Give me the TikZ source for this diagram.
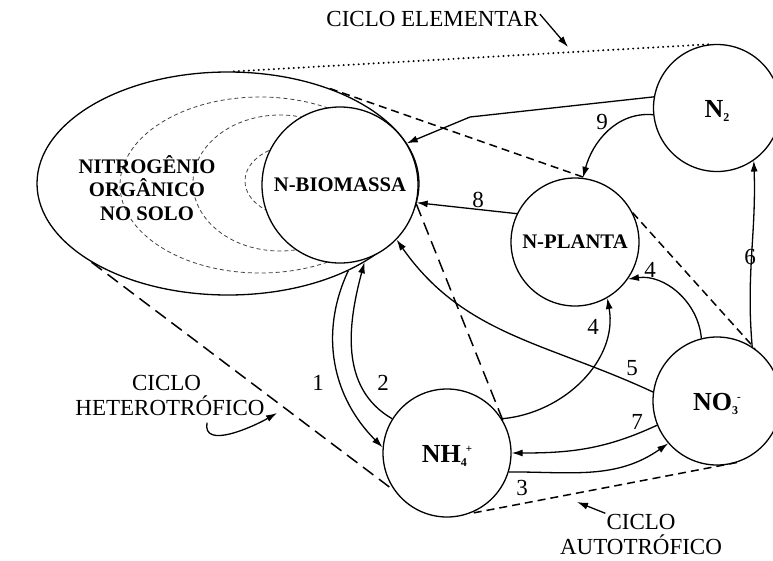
\documentclass[tikz,border=0pt]{standalone}
\usepackage{fontspec}
\setmainfont{Liberation Serif}
\usepackage{tikz}
\usetikzlibrary{shapes.geometric,arrows.meta,positioning,calc}

% small indices for the ion names
\newcommand{\lowix}[1]{\raisebox{-4pt}{\fontsize{12}{12}\selectfont #1}}
\newcommand{\highix}[1]{\raisebox{10pt}{\fontsize{11}{11}\selectfont #1}}

\begin{document}
\begin{tikzpicture}[
    x=1pt, y=-1pt,
    soilbox/.style={
        ellipse,
        draw,
        line width=1.3pt,
        inner sep=0pt,
        minimum width=382pt,
        minimum height=223pt
    },
    pool/.style={
        circle,
        draw,
        line width=1.3pt,
        inner sep=0pt,
        fill=white,
        font=\fontsize{20.7}{24}\selectfont\bfseries
    },
    ion/.style={
        pool,
        minimum size=128pt,
        text height=18pt,
        text depth=0pt,
        font=\fontsize{26}{28}\selectfont\bfseries
    },
    layer/.style={
        draw=black!75,
        line width=0.8pt,
        dash pattern=on 4pt off 3pt
    },
    line/.style={
        draw,
        line width=1.3pt,
        -{Latex[length=11pt,width=7pt]}
    },
    hetero/.style={
        draw,
        line width=1.5pt,
        dash pattern=on 13pt off 7pt
    },
    autoline/.style={
        draw,
        line width=1.5pt,
        dash pattern=on 8pt off 5pt
    },
    elemline/.style={
        draw,
        line width=2.2pt,
        line cap=round,
        dash pattern=on 0pt off 5pt
    },
    lbl/.style={
        inner sep=1pt,
        text height=15pt,
        text depth=0pt,
        font=\fontsize{23}{25}\selectfont
    },
    num/.style={
        lbl
    }
]
\useasboundingbox[fill=white] (0,0) rectangle (773,560);

% Soil pool with the inner layers
\node [soilbox] (soil) at (228,183.5) {};
\draw [layer] (260,185) ellipse [x radius=140pt, y radius=88pt];
\draw [layer] (280,183) ellipse [x radius=87pt, y radius=68pt];
\draw [layer] (300,181) ellipse [x radius=55pt, y radius=37pt];
\node [pool, minimum size=156pt] (bio) at (340,185) {N-BIOMASSA};
\node [font=\fontsize{20.7}{23.5}\selectfont\bfseries, align=center] (soiltxt) at (147,188) {NITROGÊNIO\\ORGÂNICO\\NO SOLO};

% Other pools
\node [ion, minimum size=127pt] (n2) at (717,108) {N\lowix{2}};
\node [pool, minimum size=128pt] (planta) at (575,242) {N-PLANTA};
\node [ion] (nh4) at (447,453) {NH\lowix{4}\kern-1pt\highix{+}};
\node [ion] (no3) at (717,401) {NO\lowix{3}\kern-1pt\highix{-}};

% Cycle borders
\draw [elemline] (soil.87) -- (n2.96);
\draw [hetero] (soil.210) -- (nh4.216);
\draw [hetero] (bio.-14) -- (nh4.30);
\draw [autoline] (soil.43) -- (planta.79);
\draw [autoline] (planta.27) -- (no3.54);
\draw [autoline] (no3.288) -- (nh4.290);

% Flows
\coordinate (bend) at (470,117);
\draw [line] (n2.170) -- (bend) -- (bio.32);
\draw [line] (n2.186) to[out=175,in=75] (planta.83);
\draw [line] (planta.154) -- (bio.347);
\draw [line] (no3.172) to[out=155,in=-55] (bio.316);
\draw [line] (no3.104) to[out=95,in=8] (planta.325);
\draw [line] (nh4.32) to[out=5,in=-80] (planta.300);
\draw [line] (no3.57) to[out=95,in=-88] (n2.305);
\draw [line] (no3.202) to[out=205,in=0] (nh4.0);
\draw [line] (nh4.343) to[out=0,in=215] (no3.221);
\draw [line] (soil.-36.4) to[out=-115,in=135] (nh4.175);
\draw [line] (nh4.148) to[out=150,in=-105] (soil.-30.8);

% Flow numbers
\node [num] (l1) at (318,383) {1};
\node [num] (l2) at (383,383) {2};
\node [num] (l3) at (522,488) {3};
\node [num] (l4a) at (650,270) {4};
\node [num] (l4b) at (593,327) {4};
\node [num] (l5) at (632,368) {5};
\node [num] (l6) at (750,257) {6};
\node [num] (l7) at (637,422) {7};
\node [num] (l8) at (478,200) {8};
\node [num] (l9) at (602,122) {9};

% Cycle names
\node [lbl] (elem) at (432.5,19) {CICLO ELEMENTAR};
\coordinate (elemtip) at (568,47);
\draw [line] ([yshift=5pt]elem.east) -- (elemtip);

\node [lbl] (hetA) at (166.5,383) {CICLO};
\node [lbl] (hetB) at (170,408) {HETEROTRÓFICO};
\coordinate (hettip) at (277,413);
\draw [line] ([xshift=37pt,yshift=-6pt]hetB.south) to[out=-100,in=210] (hettip);

\node [lbl] (autoA) at (641,522) {CICLO};
\node [lbl] (autoB) at (641,547) {AUTOTRÓFICO};
\coordinate (autotip) at (577,502);
\draw [line] (autoA.north west) -- (autotip);

\end{tikzpicture}
\end{document}
